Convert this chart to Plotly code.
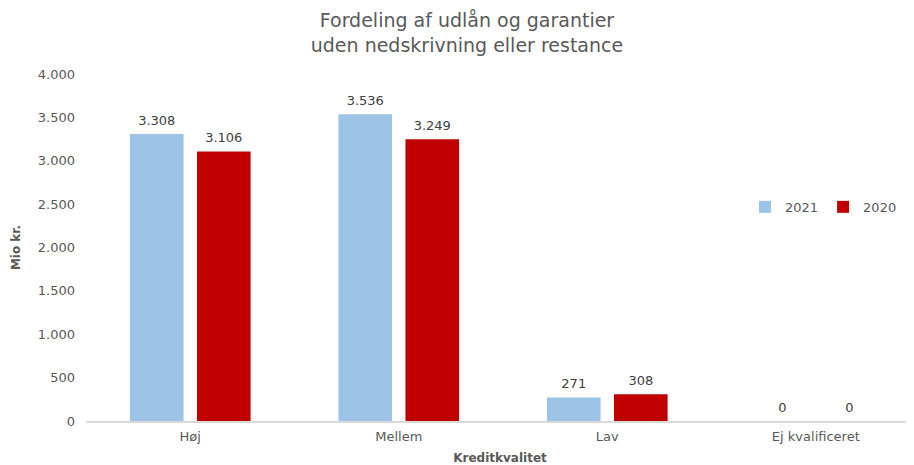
import plotly.graph_objects as go

categories = ["Høj", "Mellem", "Lav", "Ej kvalificeret"]
values_2021 = [3308, 3536, 271, 0]
values_2020 = [3106, 3249, 308, 0]
series_names = ["2021", "2020"]
y_ticks = [0, 500, 1000, 1500, 2000, 2500, 3000, 3500, 4000]

FONT = "DejaVu Sans"
GREY = "#595959"

series = [(series_names[0], values_2021, "#9DC3E6"),
          (series_names[1], values_2020, "#C00000")]

fig = go.Figure()
for name, vals, col in series:
    fig.add_trace(go.Bar(
        x=categories, y=vals, name=name, offsetgroup=name,
        marker=dict(color=col, line=dict(width=0)),
        hoverinfo="x+y+name",
    ))
# value labels, grouped like the bars
for name, vals, col in series:
    fig.add_trace(go.Scatter(
        x=categories, y=vals, name=name, offsetgroup=name,
        mode="markers+text", showlegend=False, hoverinfo="skip",
        marker=dict(size=8, opacity=0, color=col),
        texttemplate="%{y:,d}", textposition="top center",
        textfont=dict(family=FONT, size=13, color="#404040"),
        cliponaxis=False,
    ))

# page body adds an 8px offset, so the figure is 8px smaller
fig.update_layout(
    width=906, height=457,
    margin=dict(l=78, r=0, t=66, b=44),
    paper_bgcolor="white", plot_bgcolor="white",
    separators=",.",
    barmode="group", bargap=0.357, bargroupgap=0.2,
    scattermode="group", scattergap=0.357,
    font=dict(family=FONT, size=13, color=GREY),
    title=dict(text="Fordeling af udlån og garantier<br>uden nedskrivning eller restance",
               x=0.5066, xanchor="center", y=0.958, yanchor="top",
               font=dict(family=FONT, size=19, color=GREY)),
    legend=dict(orientation="h", x=0.9855, xanchor="right", y=0.617, yanchor="middle",
                font=dict(family=FONT, size=13, color=GREY),
                bgcolor="rgba(0,0,0,0)", itemwidth=30, traceorder="normal"),
    xaxis=dict(showline=True, linecolor="#D9D9D9", linewidth=1.5, ticks="",
               range=[-0.5, 3.471], automargin=False,
               ticklabelstandoff=3,
               tickfont=dict(family=FONT, size=13, color=GREY),
               title=dict(text="<b>Kreditkvalitet</b>", standoff=10,
                          font=dict(family=FONT, size=12, color=GREY))),
    yaxis=dict(range=[0, 4000], tickvals=y_ticks, tickformat=",d",
               showgrid=False, zeroline=False, showline=False, ticks="",
               ticklabelstandoff=10, automargin=False,
               tickfont=dict(family=FONT, size=13, color=GREY),
               title=dict(text="<b>Mio kr.</b>", standoff=14,
                          font=dict(family=FONT, size=12, color=GREY))),
)

fig.write_html("out.html")
